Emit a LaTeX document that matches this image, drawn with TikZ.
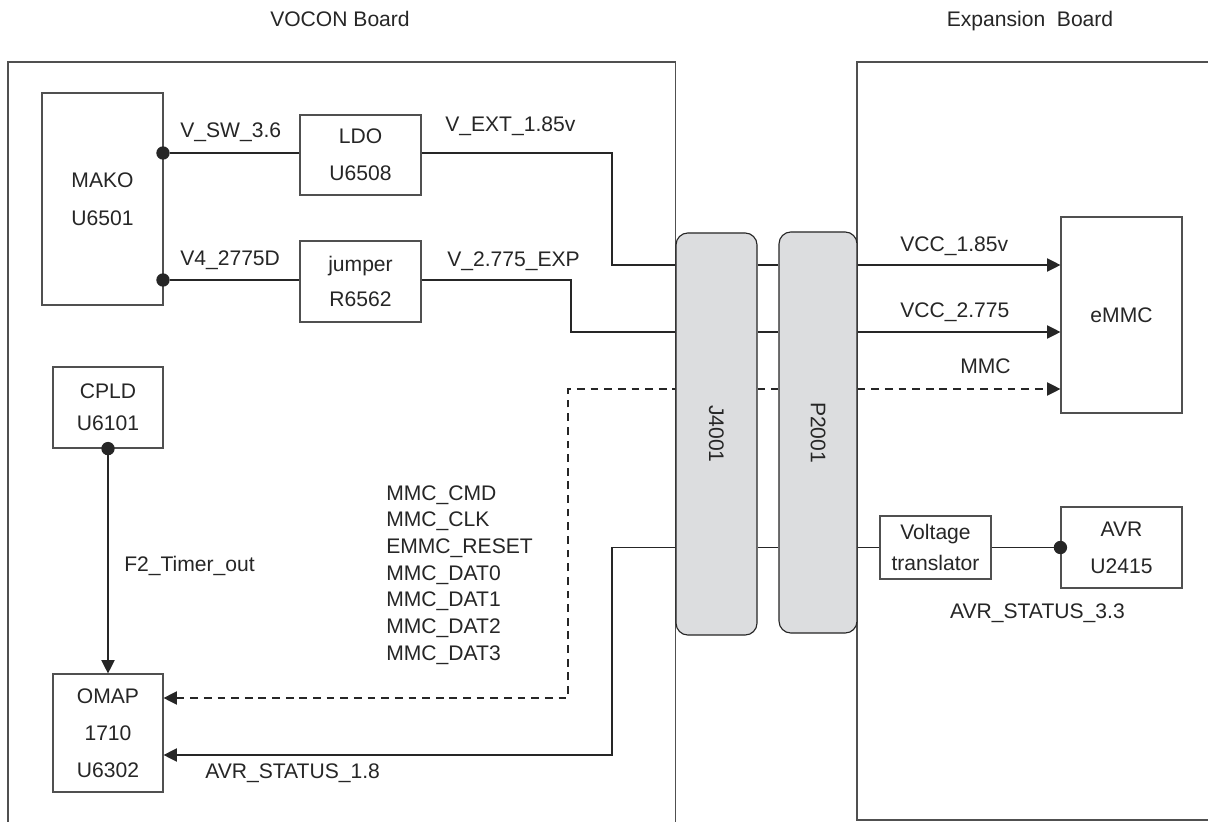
\documentclass[tikz,border=0pt]{standalone}
\usepackage{fontspec}
\usepackage{graphicx}
\setmainfont{Liberation Sans}
\usetikzlibrary{arrows.meta}
\definecolor{ink}{HTML}{262626}
\definecolor{edge}{HTML}{505050}
\definecolor{plug}{HTML}{DCDDDF}
\tikzset{
  block/.style={draw=edge, line width=0.8pt, fill=white, align=center, inner sep=0pt, text=ink},
  lead/.style={font=\fontsize{15}{#1}\selectfont},
  plugbox/.style={draw=ink, line width=0.8pt, fill=plug, rounded corners=8.5pt, inner sep=0pt, text=ink},
  wire/.style={draw=ink, line width=0.8pt},
  feed/.style={wire, -{Triangle[length=9.5pt,width=9.5pt]}},
  bus/.style={wire, dash pattern=on 5.5pt off 4.2pt},
  joint/.style={circle, fill=ink, inner sep=0pt, minimum size=9.5pt},
  tag/.style={anchor=base west, inner sep=0pt, text=ink},
}
\begin{document}
\begin{tikzpicture}[x=0.025cm, y=-0.025cm, font=\fontsize{15}{18}\selectfont]
\useasboundingbox (0,0) rectangle (1208,821);
\fill[white] (0,0) rectangle (1208,821);

% board outlines (they run past the page edges)
\begin{scope}
  \clip (0,0) rectangle (1208,821);
  \draw[edge, line width=0.9pt] (8,840) -- (8,62) -- (675.5,62) -- (675.5,840);
  \draw[edge, line width=0.9pt] (1230,62) -- (857,62) -- (857,820) -- (1230,820);
\end{scope}

% board titles
\node[anchor=base, text=ink] (vocon) at (340,27) {VOCON Board};
\node[anchor=base, text=ink] (expb) at (1030,27) {Expansion~~Board};

% functional blocks
\node[block, lead=27pt, minimum width=3.025cm, minimum height=5.3cm] (mako) at (102.5,199) {\raisebox{-0.17cm}{\parbox{2cm}{\centering MAKO\\U6501}}};
\node[block, lead=26.3pt, minimum width=3.025cm, minimum height=2.0cm] (ldo) at (360.5,155) {LDO\\U6508};
\node[block, lead=25pt, minimum width=3.025cm, minimum height=2.025cm] (jmp) at (360.5,281.5) {jumper\\R6562};
\node[block, lead=22.8pt, minimum width=2.75cm, minimum height=2.025cm] (cpld) at (108,407.5) {CPLD\\U6101};
\node[block, lead=26.3pt, minimum width=2.75cm, minimum height=2.95cm] (omap) at (108,733) {OMAP\\1710\\U6302};
\node[block, lead=18pt, minimum width=3.025cm, minimum height=4.9cm] (emmc) at (1121.5,315) {eMMC};
\node[block, lead=22pt, minimum width=2.775cm, minimum height=1.575cm] (tr) at (935.5,547.5) {Voltage\\translator};
\node[block, lead=26.3pt, minimum width=3.025cm, minimum height=2.025cm] (avr) at (1121.5,547.5) {AVR\\U2415};

% junctions and bend points of the routed nets
\node[joint] (dA) at (163,153) {};
\node[joint] (dB) at (163,280) {};
\coordinate (k1) at (612,265);
\coordinate (k2) at (571,332);
\coordinate (m1) at (568,389);
\coordinate (m2) at (568,698);
\coordinate (k3) at (612,547.5);
\coordinate (k4) at (612,755);

% board-to-board connectors
\node[plugbox, minimum width=2.025cm, minimum height=10.05cm] (jc) at (716.5,434) {\rotatebox{-90}{J4001}};
\node[plugbox, minimum width=1.95cm, minimum height=10.025cm] (pc) at (818,432.5) {\rotatebox{-90}{P2001}};

% power nets
\draw[wire] (dA) -- (dA -| ldo.west);
\draw[wire] (dB) -- (dB -| jmp.west);
\draw[wire] (dA -| ldo.east) -| (k1) -- (k1 -| jc.west);
\draw[wire] (k1 -| jc.east) -- (k1 -| pc.west);
\draw[feed] (k1 -| pc.east) -- (k1 -| emmc.west);
\draw[wire] (dB -| jmp.east) -| (k2) -- (k2 -| jc.west);
\draw[wire] (k2 -| jc.east) -- (k2 -| pc.west);
\draw[feed] (k2 -| pc.east) -- (k2 -| emmc.west);

% MMC bus
\draw[bus, {Triangle[length=9.5pt,width=9.5pt]}-] (m2 -| omap.east) -- (m2) -- (m1) -- (m1 -| jc.west);
\draw[bus] (m1 -| jc.east) -- (m1 -| pc.west);
\draw[bus, -{Triangle[length=9.5pt,width=9.5pt]}] (m1 -| pc.east) -- (m1 -| emmc.west);

% AVR status net
\draw[wire] (tr.east) -- (avr.west);
\node[joint] (dC) at (avr.west) {};
\draw[wire] (tr.west) -- (tr.west -| pc.east);
\draw[wire] (k3 -| pc.west) -- (k3 -| jc.east);
\draw[feed] (k3 -| jc.west) -- (k3) -- (k4) -- (k4 -| omap.east);

% timer output
\draw[feed] (cpld.south) -- (omap.north);
\node[joint] (dD) at (cpld.south) {};

% net labels
\node[tag] (lsw) at (180,137) {V\_SW\_3.6};
\node[tag] (l4) at (180,265) {V4\_2775D};
\node[tag] (lext) at (445,131) {V\_EXT\_1.85v};
\node[tag] (lexp) at (447,266) {V\_2.775\_EXP};
\node[tag] (lvcc1) at (900,251) {VCC\_1.85v};
\node[tag] (lvcc2) at (900,317) {VCC\_2.775};
\node[tag] (lmmc) at (960,373) {MMC};
\node[anchor=north west, inner sep=0pt, text=ink, align=left, font=\fontsize{15}{19}\selectfont] (lbus) at (386,485)
  {MMC\_CMD\\MMC\_CLK\\EMMC\_RESET\\MMC\_DAT0\\MMC\_DAT1\\MMC\_DAT2\\MMC\_DAT3};
\node[tag] (lf2) at (124,571) {F2\_Timer\_out};
\node[tag] (lavr18) at (205,778) {AVR\_STATUS\_1.8};
\node[anchor=base east, inner sep=0pt, text=ink] (lavr33) at (1125,618) {AVR\_STATUS\_3.3};
\end{tikzpicture}
\end{document}
